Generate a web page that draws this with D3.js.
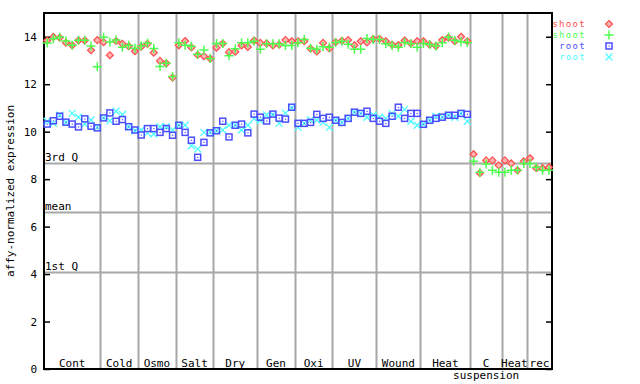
<!DOCTYPE html>
<html>
<head>
<meta charset="utf-8">
<script src="https://cdn.jsdelivr.net/npm/d3@7"></script>
<style>
  body { margin: 0; background: #fff; }
  text { font-family: "DejaVu Sans Mono", monospace; font-size: 11px; }
</style>
</head>
<body>
<div id="chart"></div>
<script>
// group names along the bottom and how many samples each one has
const groups = ["Cont", "Cold", "Osmo", "Salt", "Dry", "Gen", "Oxi", "UV", "Wound", "Heat", "C", "Heat", "rec"];
const groupSizes = [9, 6, 6, 6, 7, 6, 6, 7, 7, 8, 5, 4, 4];
const groupSub = ["", "", "", "", "", "", "", "", "", "", "suspension", "", ""];

const yTicks = [0, 2, 4, 6, 8, 10, 12, 14];
const refNames = ["3rd Q", "mean", "1st Q"];
const refValues = [8.67, 6.60, 4.07];

const shootRed = [
  13.84, 13.99, 13.96, 13.75, 13.64, 13.84, 13.84, 13.43, 13.86,
  13.77, 13.22, 13.82, 13.70, 13.60, 13.39,
  13.58, 13.70, 13.33, 12.98, 12.88, 12.28,
  13.64, 13.82, 13.55, 13.23, 13.18, 13.08,
  13.54, 13.71, 13.35, 13.37, 13.63, 13.57, 13.84,
  13.74, 13.72, 13.63, 13.67, 13.86, 13.81,
  13.81, 13.81, 13.50, 13.38, 13.74, 13.51,
  13.77, 13.83, 13.86, 13.64, 13.81, 13.76, 13.90,
  13.91, 13.81, 13.67, 13.65, 13.84, 13.72, 13.81,
  13.81, 13.67, 13.61, 13.86, 13.96, 13.81, 14.00, 13.81,
  9.05, 8.25, 8.79, 8.79, 8.58,
  8.79, 8.66, 8.37, 8.75,
  8.88, 8.46, 8.46, 8.50
];
const shootGreen = [
  13.74, 13.91, 13.99, 13.82, 13.64, 13.85, 13.85, 13.61, 12.73,
  13.98, 13.78, 13.86, 13.56, 13.64, 13.51,
  13.62, 13.74, 13.50, 12.75, 12.88, 12.32,
  13.75, 13.64, 13.60, 13.26, 13.44, 13.08,
  13.71, 13.71, 13.20, 13.49, 13.75, 13.75, 13.81,
  13.47, 13.70, 13.70, 13.70, 13.63, 13.63,
  13.75, 13.88, 13.51, 13.47, 13.58, 13.56,
  13.76, 13.81, 13.68, 13.47, 13.47, 13.93, 13.88,
  13.88, 13.70, 13.63, 13.56, 13.76, 13.70, 13.56,
  13.71, 13.67, 13.61, 13.75, 13.99, 13.85, 13.79, 13.76,
  8.75, 8.29, 8.64, 8.37, 8.29,
  8.29, 8.37, 8.37, 8.66,
  8.66, 8.50, 8.37, 8.37
];
const rootBlue = [
  10.32, 10.46, 10.65, 10.40, 10.32, 10.20, 10.54, 10.23, 10.16,
  10.58, 10.79, 10.44, 10.51, 10.21, 10.07,
  9.86, 10.13, 10.13, 9.97, 10.13, 9.85,
  10.27, 9.97, 9.64, 8.92, 9.55, 9.95,
  10.04, 10.44, 9.78, 10.27, 10.32, 9.95, 10.74,
  10.61, 10.45, 10.74, 10.57, 10.53, 11.03,
  10.35, 10.35, 10.39, 10.73, 10.56, 10.61,
  10.48, 10.39, 10.56, 10.82, 10.77, 10.86, 10.56,
  10.44, 10.35, 10.65, 11.03, 10.56, 10.77, 10.77,
  10.31, 10.48, 10.56, 10.61, 10.69, 10.69, 10.77, 10.73
];
const rootCyan = [
  10.44, 10.35, 10.69, 10.40, 10.77, 10.61, 10.32, 10.49, 10.18,
  10.58, 10.46, 10.86, 10.72, 10.21, 10.04,
  10.07, 9.95, 9.90, 10.21, 10.21, 10.07,
  10.27, 10.27, 9.41, 9.27, 9.97, 9.97,
  10.04, 10.07, 10.27, 10.27, 10.07, 10.27, 10.55,
  10.47, 10.70, 10.71, 10.35, 10.78, 11.01,
  10.18, 10.35, 10.49, 10.49, 10.39, 10.18,
  10.48, 10.39, 10.56, 10.82, 10.77, 10.61, 10.70,
  10.61, 10.56, 10.77, 10.65, 10.94, 10.44, 10.27,
  10.31, 10.48, 10.65, 10.61, 10.69, 10.61, 10.77, 10.44
];

const width = 640,
      height = 384,
      margin = ({ top: 13, right: 88, bottom: 15, left: 44 });

const red = "#ff4d4d", green = "#4dff4d", blue = "#4d4dff", cyan = "#4dffff", grid = "#a8a8a8";

let svg = d3.select("#chart")
    .append("svg")
    .attr("width", width)
    .attr("height", height);

const nSamples = d3.sum(groupSizes);

let x = d3.scaleBand()
    .domain(d3.range(nSamples))
    .range([margin.left, width - margin.right]);

let y = d3.scaleLinear()
    .domain([0, 15])
    .range([height - margin.bottom, margin.top]);

// where each group starts (index of first sample)
const starts = [];
let acc = 0;
for (let s of groupSizes) { starts.push(acc); acc += s; }

// vertical group separators
svg.append("g")
    .selectAll("line")
    .data(starts.slice(1))
    .join("line")
    .attr("x1", d => Math.round(x(d)) + 0.5)
    .attr("x2", d => Math.round(x(d)) + 0.5)
    .attr("y1", y(15))
    .attr("y2", y(0))
    .attr("stroke", grid)
    .attr("stroke-width", 2);

// quartile / mean lines
svg.append("g")
    .selectAll("line")
    .data(refValues)
    .join("line")
    .attr("x1", margin.left)
    .attr("x2", width - margin.right)
    .attr("y1", d => Math.round(y(d)) + 0.5)
    .attr("y2", d => Math.round(y(d)) + 0.5)
    .attr("stroke", grid)
    .attr("stroke-width", 2);

svg.append("g")
    .selectAll("text")
    .data(refNames)
    .join("text")
    .attr("x", margin.left + 1)
    .attr("y", (d, i) => y(refValues[i]) - 2)
    .text(d => d);

// axes: ticks point inward, right side mirrors the left
let yAxis = svg.append("g")
    .attr("transform", `translate(${margin.left},0)`)
    .call(d3.axisLeft(y).tickValues(yTicks).tickSize(-6).tickPadding(7));
yAxis.select(".domain").remove();

let yAxisR = svg.append("g")
    .attr("transform", `translate(${width - margin.right},0)`)
    .call(d3.axisRight(y).tickValues(yTicks).tickSize(-6).tickFormat(""));
yAxisR.select(".domain").remove();

svg.selectAll(".tick text")
    .style("font-family", "DejaVu Sans Mono, monospace")
    .style("font-size", "11px");
svg.selectAll(".tick line").attr("stroke-width", 1.5);

// plot frame
svg.append("rect")
    .attr("x", margin.left)
    .attr("y", margin.top)
    .attr("width", width - margin.left - margin.right)
    .attr("height", height - margin.top - margin.bottom)
    .attr("fill", "none")
    .attr("stroke", "black")
    .attr("stroke-width", 2);

// group labels
svg.append("g")
    .selectAll("text")
    .data(groups)
    .join("text")
    .attr("x", (d, i) => (x(starts[i]) + x(starts[i] + groupSizes[i] - 1) + x.bandwidth()) / 2)
    .attr("y", 367)
    .attr("text-anchor", "middle")
    .text(d => d);

svg.append("g")
    .selectAll("text")
    .data(groupSub)
    .join("text")
    .attr("x", (d, i) => (x(starts[i]) + x(starts[i] + groupSizes[i] - 1) + x.bandwidth()) / 2)
    .attr("y", 379)
    .attr("text-anchor", "middle")
    .text(d => d);

svg.append("text")
    .attr("transform", "translate(14,191) rotate(-90)")
    .attr("text-anchor", "middle")
    .text("affy-normalized expression");

// marker shapes
const cx = i => x(i) + x.bandwidth() / 2;

function diamond(g, px, py) {
    g.append("path")
        .attr("d", `M${px},${py - 3.5}L${px + 3.5},${py}L${px},${py + 3.5}L${px - 3.5},${py}Z`)
        .attr("fill", "#ffb3b3")
        .attr("stroke", red)
        .attr("stroke-width", 1.2);
}
function plus(g, px, py) {
    g.append("path")
        .attr("d", `M${px - 4.5},${py}H${px + 4.5}M${px},${py - 4.5}V${py + 4.5}`)
        .attr("stroke", green)
        .attr("stroke-width", 1.5);
}
function square(g, px, py) {
    g.append("rect")
        .attr("x", px - 3).attr("y", py - 3)
        .attr("width", 6).attr("height", 6)
        .attr("fill", "none")
        .attr("stroke", blue)
        .attr("stroke-width", 1.5);
    g.append("rect")
        .attr("x", px - 0.5).attr("y", py - 0.5)
        .attr("width", 1.2).attr("height", 1.2)
        .attr("fill", blue);
}
function cross(g, px, py) {
    g.append("path")
        .attr("d", `M${px - 3.5},${py - 3.5}L${px + 3.5},${py + 3.5}M${px - 3.5},${py + 3.5}L${px + 3.5},${py - 3.5}`)
        .attr("stroke", cyan)
        .attr("stroke-width", 1.3);
}

const series = [
    { name: "shoot", values: shootRed, color: red, draw: diamond },
    { name: "shoot", values: shootGreen, color: green, draw: plus },
    { name: "root", values: rootCyan, color: cyan, draw: cross },
    { name: "root", values: rootBlue, color: blue, draw: square }
];

for (let s of series) {
    let g = svg.append("g");
    s.values.forEach((v, i) => s.draw(g, cx(i), y(v)));
}

// legend (red, green, blue, cyan order)
const legendOrder = [0, 1, 3, 2];
legendOrder.forEach((k, j) => {
    let s = series[k];
    let ly = 24 + j * 11;
    svg.append("text")
        .attr("x", 586)
        .attr("y", ly + 3)
        .attr("text-anchor", "end")
        .style("font-size", "9px")
        .style("letter-spacing", "1.3px")
        .style("fill", s.color)
        .text(s.name);
    s.draw(svg.append("g"), 609, ly);
});
</script>
</body>
</html>
